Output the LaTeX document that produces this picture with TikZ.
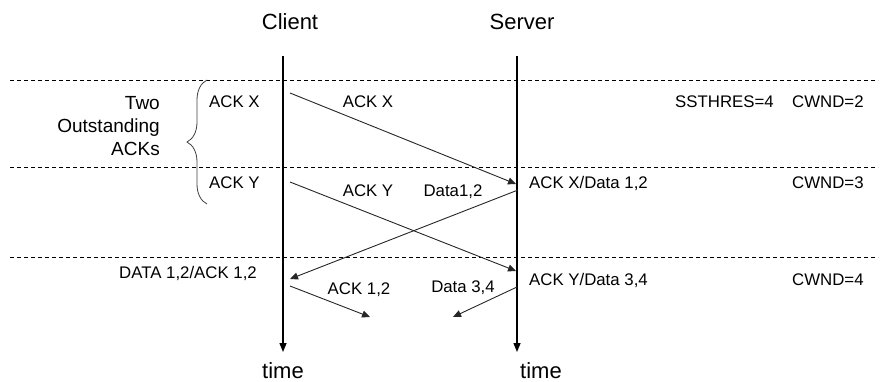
\documentclass[tikz,border=0pt]{standalone}
\usepackage{fontspec}
\setmainfont{Liberation Sans}
\usetikzlibrary{arrows.meta,decorations.pathreplacing}

\begin{document}
\begin{tikzpicture}[x=1pt,y=-1pt]
                \tikzset{lbl/.style = {inner sep=0pt,text height=12pt,text depth=0pt,font=\fontsize{16.8}{19}\selectfont}}
                \tikzset{big/.style = {inner sep=0pt,text height=16pt,text depth=0pt,font=\fontsize{22}{26}\selectfont}}
                \tikzset{msg/.style = {-{Triangle[length=8pt,width=7pt]}, line width=0.9pt, draw=black!85}}
                \tikzset{timeline/.style = {-{Triangle[length=9pt,width=7pt]}, line width=1.4pt}}
                \tikzset{divider/.style = {dash pattern=on 4pt off 3pt, line width=0.8pt}}
                \useasboundingbox (0,0) rectangle (881,381);

                \node[big] (client) at (290, 21) {Client};
                \node[big] (server) at (522, 21) {Server};
                \coordinate (c0) at (283, 56);
                \coordinate (c1) at (283, 352);
                \coordinate (s0) at (517, 56);
                \coordinate (s1) at (517, 352);
                \node[big] (ctime) at (283, 370) {time};
                \node[big, anchor=west] (stime) at (520, 370) {time};

                \foreach \y in {80, 167, 257}
                    \draw[divider] (10, \y) -- (878, \y);

                \draw[timeline] (c0) -- (c1);
                \draw[timeline] (s0) -- (s1);

                \node[inner sep=0pt, align=right, anchor=east, font=\fontsize{19}{23}\selectfont] (two) at (160, 126) {Two\\Outstanding\\ACKs};
                \draw[decorate, decoration={brace, amplitude=20pt}, line width=0.8pt, draw=black!75] (207, 204) -- (207, 80);

                \node[lbl, anchor=west] (ackx) at (209, 101) {ACK X};
                \node[lbl, anchor=west] (acky) at (209, 182) {ACK Y};
                \node[lbl] (ackxm) at (368, 101) {ACK X};
                \node[lbl] (ackym) at (368, 190) {ACK Y};
                \node[lbl] (d12) at (453, 190) {Data1,2};
                \node[lbl, anchor=west] (ackxd) at (529, 182) {ACK X/Data 1,2};
                \node[lbl, anchor=west] (ss) at (675, 101) {SSTHRES=4};
                \node[lbl, anchor=west] (cw2) at (792, 101) {CWND=2};
                \node[lbl, anchor=west] (cw3) at (792, 182) {CWND=3};
                \node[lbl, anchor=west] (cw4) at (792, 279) {CWND=4};
                \node[lbl, anchor=west] (ackyd) at (529, 279) {ACK Y/Data 3,4};
                \node[lbl, anchor=east] (dack) at (257, 272) {DATA 1,2/ACK 1,2};
                \node[lbl] (ack12) at (359, 288) {ACK 1,2};
                \node[lbl] (d34) at (463, 286) {Data 3,4};

                \coordinate (ackx-s) at (290, 93);
                \coordinate (ackx-e) at (516, 184);
                \coordinate (acky-s) at (290, 182);
                \coordinate (acky-e) at (516, 271);
                \coordinate (d12-s) at (518, 190);
                \coordinate (d12-e) at (290, 279);
                \coordinate (ack12-s) at (290, 286);
                \coordinate (ack12-e) at (370, 317);
                \coordinate (d34-s) at (517, 287);
                \coordinate (d34-e) at (453, 317);

                \draw[msg] (ackx-s) to (ackx-e);
                \draw[msg] (acky-s) to (acky-e);
                \draw[msg] (d12-s) to (d12-e);
                \draw[msg] (ack12-s) to (ack12-e);
                \draw[msg] (d34-s) to (d34-e);
            \end{tikzpicture}
\end{document}
